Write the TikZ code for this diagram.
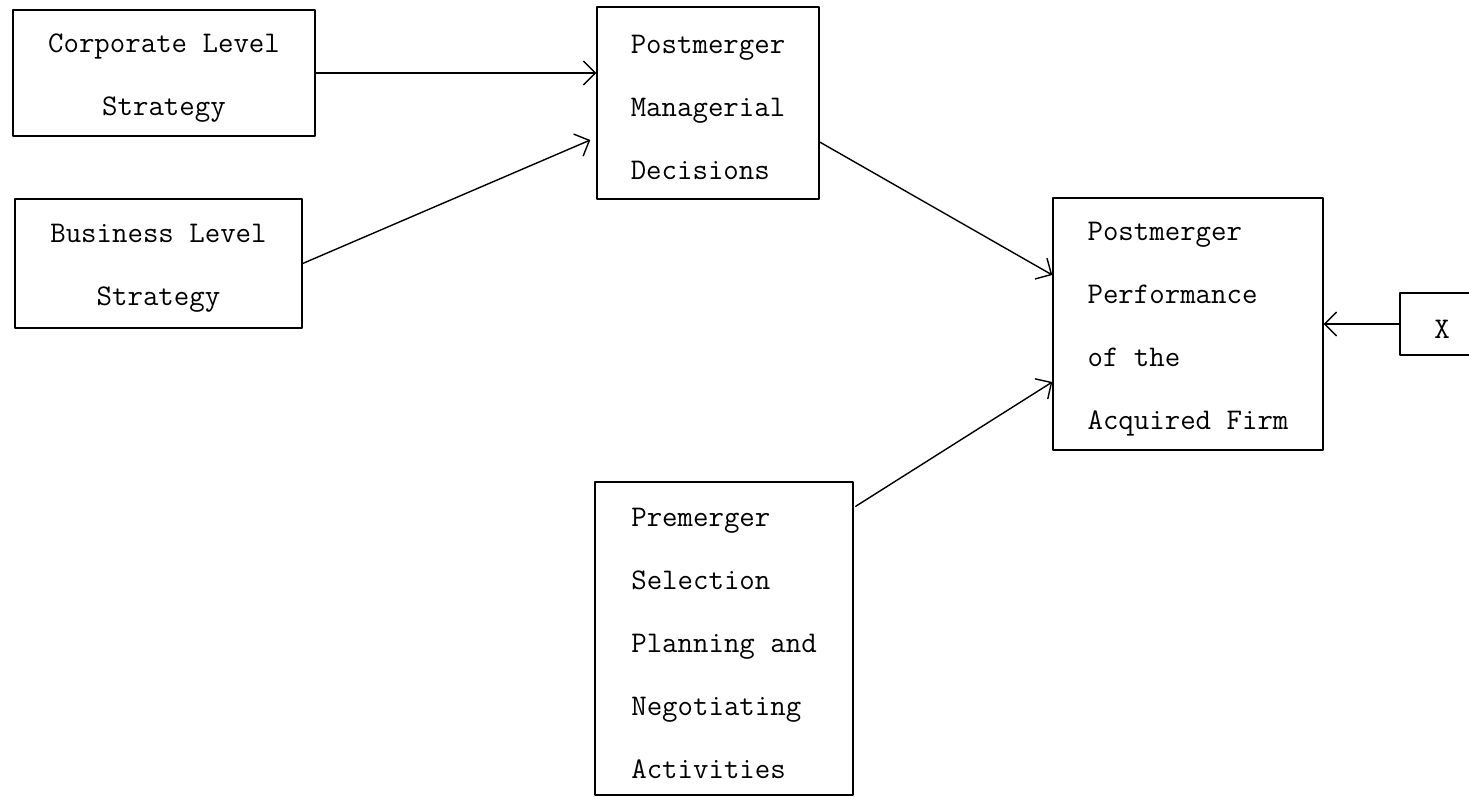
\documentclass[tikz,border=0pt]{standalone}
\usetikzlibrary{arrows.meta,calc}
\newcommand{\topgap}{\rule{0pt}{14pt}}
\begin{document}
\begin{tikzpicture}[x=0.5pt,y=-0.5pt,line join=round,line cap=round,
    font=\ttfamily\fontsize{15}{31.5}\selectfont,>={Straight Barb[length=6pt,width=12pt]},
    box/.style={draw,line width=0.7pt,inner sep=0pt},
    link/.style={->,line width=0.7pt}]
  \fill[white] (0,0) rectangle (1469,797);
  \clip (0,0) rectangle (1469,797);
  \node[box,align=center,minimum width=151pt,minimum height=63pt] (corp) at (164,73) {\topgap Corporate Level\\Strategy};
  \node[box,align=center,minimum width=143.5pt,minimum height=64.5pt] (busi) at (158.5,263.5) {\topgap Business Level\\Strategy};
  \node[box,align=left,minimum width=111pt,minimum height=96pt] (decis) at (708,103) {\topgap Postmerger\\Managerial\\Decisions};
  \node[box,align=left,minimum width=135pt,minimum height=126pt] (perf) at (1188,324) {\topgap Postmerger\\Performance\\of the\\Acquired Firm};
  \node[box,minimum width=42pt,minimum height=31pt] (xvar) at (1442,324) {\topgap X};
  \node[box,align=left,minimum width=129pt,minimum height=156.5pt] (premg) at (724,638.5) {\topgap Premerger\\Selection\\Planning and\\Negotiating\\Activities};
  \draw[link] (corp.east) -- (corp.east -| decis.west);
  \draw[link] (busi.east) -- ($(decis.west)+(-6,37)$);
  \draw[link] ($(decis.east)+(0,39)$) -- ($(perf.west)+(0,-49)$);
  \draw[link] ($(premg.north east)+(2,25)$) -- ($(perf.west)+(0,58)$);
  \draw[link] (xvar.west) -- (xvar.west -| perf.east);
\end{tikzpicture}
\end{document}
